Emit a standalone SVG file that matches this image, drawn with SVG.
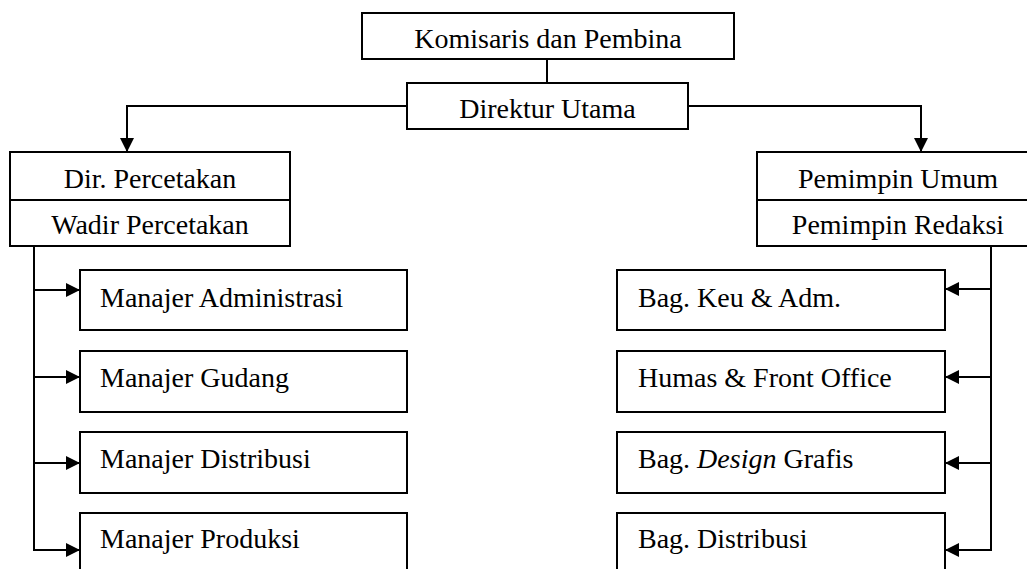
<svg xmlns="http://www.w3.org/2000/svg" width="1027" height="569" viewBox="0 0 1027 569">
<defs>
<style>
.box{fill:#fff;stroke:#000;stroke-width:2}
.t{font-family:"Liberation Serif","Times New Roman",serif;font-size:28px;fill:#000}
.c{text-anchor:middle}
.ln{fill:none;stroke:#000;stroke-width:2}
</style>
<marker id="ah" viewBox="0 0 14 14" refX="14" refY="7" markerWidth="14" markerHeight="14" markerUnits="userSpaceOnUse" orient="auto">
<path d="M0,0 L14,7 L0,14 z" fill="#000"/>
</marker>
</defs>
<rect width="1027" height="569" fill="#fff"/>
<g id="connectors">
<path class="ln" d="M547,59 V83"/>
<path class="ln" d="M407,106 H127 V152" marker-end="url(#ah)"/>
<path class="ln" d="M688,106 H921 V152" marker-end="url(#ah)"/>
<path class="ln" d="M34,246 V550"/>
<path class="ln" d="M34,290 H80" marker-end="url(#ah)"/>
<path class="ln" d="M34,377 H80" marker-end="url(#ah)"/>
<path class="ln" d="M34,463 H80" marker-end="url(#ah)"/>
<path class="ln" d="M33,550 H80" marker-end="url(#ah)"/>
<path class="ln" d="M991,246 V550"/>
<path class="ln" d="M991,289 H945" marker-end="url(#ah)"/>
<path class="ln" d="M991,377 H945" marker-end="url(#ah)"/>
<path class="ln" d="M991,463 H945" marker-end="url(#ah)"/>
<path class="ln" d="M992,550 H945" marker-end="url(#ah)"/>
</g>
<g id="komisaris">
<rect class="box" x="362" y="13" width="372" height="46"/>
<text class="t c" x="548" y="48">Komisaris dan Pembina</text>
</g>
<g id="direktur">
<rect class="box" x="407" y="83" width="281" height="46"/>
<text class="t c" x="547.5" y="118">Direktur Utama</text>
</g>
<g id="dir-percetakan">
<rect class="box" x="10" y="152" width="280" height="94"/>
<line class="ln" x1="10" y1="200" x2="290" y2="200"/>
<text class="t c" x="150" y="188">Dir. Percetakan</text>
<text class="t c" x="150" y="234">Wadir Percetakan</text>
</g>
<g id="pemimpin">
<rect class="box" x="757" y="152" width="282" height="94"/>
<line class="ln" x1="757" y1="200" x2="1039" y2="200"/>
<text class="t c" x="898" y="188">Pemimpin Umum</text>
<text class="t c" x="898" y="234">Pemimpin Redaksi</text>
</g>
<g id="m-admin">
<rect class="box" x="80" y="270" width="327" height="60"/>
<text class="t" x="100" y="307">Manajer Administrasi</text>
</g>
<g id="m-gudang">
<rect class="box" x="80" y="351" width="327" height="61"/>
<text class="t" x="100" y="387">Manajer Gudang</text>
</g>
<g id="m-distribusi">
<rect class="box" x="80" y="432" width="327" height="61"/>
<text class="t" x="100" y="468">Manajer Distribusi</text>
</g>
<g id="m-produksi">
<rect class="box" x="80" y="513" width="327" height="62"/>
<text class="t" x="100" y="548">Manajer Produksi</text>
</g>
<g id="b-keu">
<rect class="box" x="617" y="270" width="328" height="60"/>
<text class="t" x="638" y="307">Bag. Keu &amp; Adm.</text>
</g>
<g id="b-humas">
<rect class="box" x="617" y="351" width="328" height="61"/>
<text class="t" x="638" y="387">Humas &amp; Front Office</text>
</g>
<g id="b-design">
<rect class="box" x="617" y="432" width="328" height="61"/>
<text class="t" x="638" y="468">Bag. <tspan font-style="italic">Design</tspan> Grafis</text>
</g>
<g id="b-distribusi">
<rect class="box" x="617" y="513" width="328" height="62"/>
<text class="t" x="638" y="548">Bag. Distribusi</text>
</g>
</svg>
